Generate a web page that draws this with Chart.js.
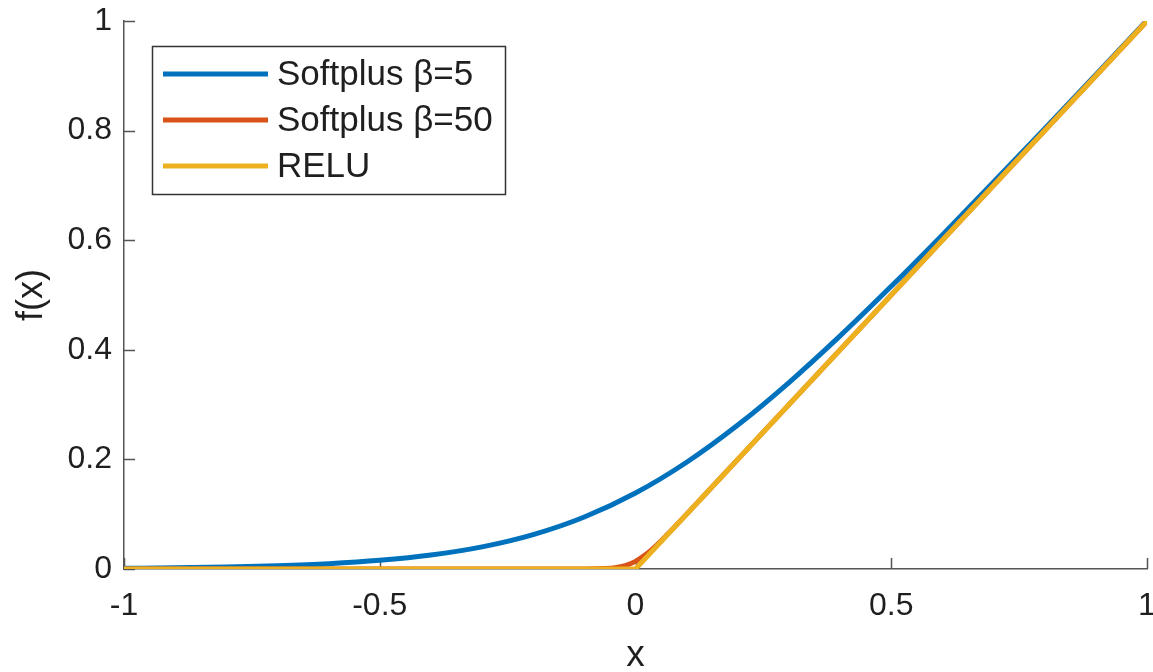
<!DOCTYPE html>
<html>
<head>
<meta charset="utf-8">
<title>Softplus vs RELU</title>
<script src="https://cdn.jsdelivr.net/npm/chart.js@4/dist/chart.umd.min.js"></script>
<style>
  html, body { margin: 0; padding: 0; background: #fff; overflow: hidden; }
  #wrap { width: 1153px; height: 672px; }
</style>
</head>
<body>
<div id="wrap"><canvas id="chart"></canvas></div>
<script>
// values
const seriesNames = ['Softplus β=5', 'Softplus β=50', 'RELU'];
const seriesColors = ['#0072BD', '#D95319', '#EDB120'];

const xBeta5 = [-1, -0.9, -0.8, -0.7, -0.6, -0.5, -0.4, -0.3, -0.2, -0.1, 0, 0.1, 0.2, 0.3, 0.4, 0.5, 0.6, 0.7, 0.8, 0.9, 1];
const yBeta5 = [0.0013, 0.0022, 0.0036, 0.006, 0.0097, 0.0158, 0.0254, 0.0403, 0.0627, 0.0948, 0.1386, 0.1948, 0.2627, 0.3403, 0.4254, 0.5158, 0.6097, 0.706, 0.8036, 0.9022, 1.0013];

const xBeta50 = [-1, -0.2, -0.1, -0.06, -0.04, -0.02, 0, 0.02, 0.04, 0.06, 0.1, 0.2, 1];
const yBeta50 = [0, 0, 0.0001, 0.001, 0.0025, 0.0063, 0.0139, 0.0263, 0.0425, 0.061, 0.1001, 0.2, 1];

const xRelu = [-1, 0, 1];
const yRelu = [0, 0, 1];

const xTickLabels = ['-1', '-0.5', '0', '0.5', '1'];
const yTickLabels = ['0', '0.2', '0.4', '0.6', '0.8', '1'];

const FONT = '"Liberation Sans", Arial, Helvetica, sans-serif';
const TEXT = '#1f1f1f';
const AXIS = '#555';

function toPoints(xs, ys) {
  return xs.map((x, i) => ({ x: x, y: ys[i] }));
}

// MATLAB style ticks pointing into the plot
const innerTicks = {
  id: 'innerTicks',
  beforeDatasetsDraw(chart) {
    const { ctx, chartArea, scales } = chart;
    ctx.save();
    ctx.strokeStyle = AXIS;
    ctx.lineWidth = 1.5;
    ctx.beginPath();
    scales.x.ticks.forEach((t, i) => {
      const px = Math.round(scales.x.getPixelForTick(i)) + 0.5;
      ctx.moveTo(px, chartArea.bottom);
      ctx.lineTo(px, chartArea.bottom - 11);
    });
    scales.y.ticks.forEach((t, i) => {
      const py = Math.round(scales.y.getPixelForTick(i)) + 0.5;
      ctx.moveTo(chartArea.left, py);
      ctx.lineTo(chartArea.left + 11, py);
    });
    ctx.stroke();
    ctx.restore();
  }
};

// boxed legend inside the axes, top left
const boxLegend = {
  id: 'boxLegend',
  afterDraw(chart) {
    const { ctx, chartArea } = chart;
    const left = chartArea.left + 28;
    const top = chartArea.top + 25;
    const w = 353, h = 148;
    ctx.save();
    ctx.fillStyle = '#fff';
    ctx.fillRect(left, top, w, h);
    ctx.strokeStyle = '#333';
    ctx.lineWidth = 1.5;
    ctx.strokeRect(left + 0.5, top + 0.5, w, h);
    ctx.font = '35px ' + FONT;
    ctx.textBaseline = 'middle';
    ctx.fillStyle = TEXT;
    seriesNames.forEach((name, i) => {
      const y = top + 28 + i * 46;
      ctx.strokeStyle = seriesColors[i];
      ctx.lineWidth = 5;
      ctx.beginPath();
      ctx.moveTo(left + 11, y);
      ctx.lineTo(left + 116, y);
      ctx.stroke();
      ctx.fillText(name, left + 125, y + 1);
    });
    ctx.restore();
  }
};

new Chart(document.getElementById('chart'), {
  type: 'line',
  data: {
    datasets: [
      {
        label: seriesNames[0],
        data: toPoints(xBeta5, yBeta5),
        borderColor: seriesColors[0],
        order: 3
      },
      {
        label: seriesNames[1],
        data: toPoints(xBeta50, yBeta50),
        borderColor: seriesColors[1],
        order: 2
      },
      {
        label: seriesNames[2],
        data: toPoints(xRelu, yRelu),
        borderColor: seriesColors[2],
        order: 1,
        cubicInterpolationMode: 'default',
        tension: 0
      }
    ]
  },
  options: {
    responsive: true,
    maintainAspectRatio: false,
    animation: false,
    elements: {
      point: { radius: 0 },
      line: { borderWidth: 5, cubicInterpolationMode: 'monotone', borderCapStyle: 'butt' }
    },
    layout: { padding: 0 },
    plugins: {
      legend: { display: false },
      tooltip: { enabled: false }
    },
    scales: {
      x: {
        type: 'linear',
        min: -1,
        max: 1,
        grid: { drawOnChartArea: false, drawTicks: false },
        border: { color: AXIS, width: 1.5 },
        ticks: {
          stepSize: 0.5,
          padding: 18,
          color: TEXT,
          font: { family: FONT, size: 32 },
          maxRotation: 0,
          callback: (v, i) => xTickLabels[i]
        },
        title: {
          display: true,
          text: 'x',
          color: TEXT,
          font: { family: FONT, size: 37, lineHeight: 0.85 },
          padding: { top: 0, bottom: 0 }
        },
        afterFit(scale) {
          scale.height = 103;
          scale.paddingLeft = 0;
          scale.paddingRight = 6;
        }
      },
      y: {
        min: 0,
        max: 1,
        grid: { drawOnChartArea: false, drawTicks: false },
        border: { color: AXIS, width: 1.5 },
        ticks: {
          stepSize: 0.2,
          padding: 12,
          color: TEXT,
          font: { family: FONT, size: 32 },
          callback: (v, i) => yTickLabels[i]
        },
        title: {
          display: true,
          text: 'f(x)',
          color: TEXT,
          font: { family: FONT, size: 36, lineHeight: 1 },
          padding: { top: 14, bottom: 0 }
        },
        afterFit(scale) {
          scale.width = 124;
          scale.paddingTop = 21;
          scale.paddingBottom = 0;
        }
      }
    }
  },
  plugins: [innerTicks, boxLegend]
});
</script>
</body>
</html>
